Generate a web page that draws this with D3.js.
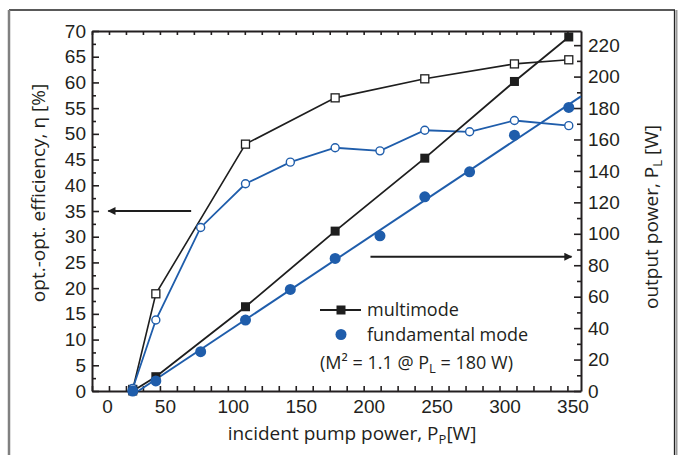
<!DOCTYPE html>
<html>
<head>
<meta charset="utf-8">
<script src="https://cdn.jsdelivr.net/npm/d3@7"></script>
<style>
  body { margin: 0; background: #fff; }
  svg { display: block; font-family: "Open Sans", "Noto Sans", sans-serif; }
  .tick text { font-size: 19px; fill: #231f20; }
  .domain { stroke: #231f20; stroke-width: 2; }
  .tick line { stroke: #231f20; stroke-width: 1.6; }
  .title { font-size: 19px; fill: #231f20; }
  .legend-text { font-size: 18px; fill: #231f20; }
</style>
</head>
<body>
<svg id="chart" width="685" height="455"></svg>
<script>
// data
const pump = [30, 47, 80, 113, 146, 179, 212, 245, 278, 311, 351];          // incident pump power [W]
const pumpMulti = [30, 47, 113, 179, 245, 311, 351];

const effMulti = [0.3, 18.9, 48.0, 57.0, 60.7, 63.6, 64.4];                 // efficiency [%]
const effFund = [0.5, 13.8, 31.8, 40.3, 44.5, 47.3, 46.7, 50.7, 50.4, 52.6, 51.6];

const powMulti = [0, 9.1, 53.6, 101.7, 148.1, 196.9, 225.2];                // output power [W]
const powFund = [0, 6.4, 25, 45.1, 64.6, 84.3, 98.7, 123.5, 139.4, 162.7, 180.4];

const xTicks = d3.range(0, 360, 12.5);
const xLabels = [0, 50, 100, 150, 200, 250, 300, 350];
const effTicks = d3.range(0, 70.1, 2.5);
const powTicks = d3.range(0, 229, 10);

const blue = '#1f5dab';
const black = '#1e1e1e';

const svg = d3.select('#chart');

// scales
const x = d3.scaleLinear().domain([0, 360]).range([92, 581]);
const yL = d3.scaleLinear().domain([0, 70]).range([391, 31]);
const yR = d3.scaleLinear().domain([0, 229]).range([391, 31]);

// outer frame
svg.append('line').attr('x1', 9).attr('x2', 675).attr('y1', 10).attr('y2', 10)
    .attr('stroke', '#222').attr('stroke-width', 1.3);
svg.append('line').attr('x1', 674.5).attr('x2', 674.5).attr('y1', 10).attr('y2', 455)
    .attr('stroke', '#222').attr('stroke-width', 1.3);
svg.append('line').attr('x1', 676.5).attr('x2', 676.5).attr('y1', 10).attr('y2', 455)
    .attr('stroke', '#999').attr('stroke-width', 2);
svg.append('line').attr('x1', 9).attr('x2', 9).attr('y1', 10).attr('y2', 455)
    .attr('stroke', '#808080').attr('stroke-width', 2.5);

// axes (ticks point into the plot)
const bottom = svg.append('g')
    .attr('transform', `translate(0,${yL.range()[0]})`)
    .call(d3.axisBottom(x).tickValues(xTicks).tickSizeInner(-5).tickSizeOuter(0).tickPadding(9)
        .tickFormat(d => xLabels.includes(d) ? d : ''));
bottom.selectAll('.tick text').attr('dx', d => d === 0 ? 15 : 5);

svg.append('g')
    .attr('transform', `translate(0,${yL.range()[1]})`)
    .call(d3.axisTop(x).tickValues(xTicks).tickSizeInner(-4).tickSizeOuter(0).tickFormat(''));

const left = svg.append('g')
    .attr('transform', `translate(${x.range()[0]},0)`)
    .call(d3.axisLeft(yL).tickValues(effTicks).tickSizeInner(-7).tickSizeOuter(0).tickPadding(6)
        .tickFormat(d => d % 5 === 0 ? d : ''));
left.selectAll('.tick line').attr('x2', d => d % 5 === 0 ? 7 : 4);

const right = svg.append('g')
    .attr('transform', `translate(${x.range()[1]},0)`)
    .call(d3.axisRight(yR).tickValues(powTicks).tickSizeInner(-7).tickSizeOuter(0).tickPadding(7)
        .tickFormat(d => d % 20 === 0 ? d : ''));
right.selectAll('.tick line').attr('x2', d => d % 20 === 0 ? -7 : -4);

// axis titles
const xTitle = svg.append('text').attr('class', 'title')
    .attr('x', 352).attr('y', 440).attr('text-anchor', 'middle');
xTitle.append('tspan').text('incident pump power, P');
xTitle.append('tspan').attr('font-size', 13).attr('dy', 4).text('P');
xTitle.append('tspan').attr('dy', -4).text('[W]');

svg.append('text').attr('class', 'title')
    .attr('transform', 'translate(45,193) rotate(-90)')
    .attr('text-anchor', 'middle')
    .text('opt.-opt. efficiency, η [%]');

const rTitle = svg.append('text').attr('class', 'title')
    .attr('transform', 'translate(658,217) rotate(-90)')
    .attr('text-anchor', 'middle');
rTitle.append('tspan').text('output power, P');
rTitle.append('tspan').attr('font-size', 13).attr('dy', 4).text('L');
rTitle.append('tspan').attr('dy', -4).text(' [W]');

// arrows
svg.append('defs').append('marker')
    .attr('id', 'head').attr('viewBox', '0 0 10 10')
    .attr('refX', 9).attr('refY', 5)
    .attr('markerWidth', 10).attr('markerHeight', 8).attr('markerUnits', 'userSpaceOnUse')
    .attr('orient', 'auto')
    .append('path').attr('d', 'M0,0L10,5L0,10Z').attr('fill', black);

const arrowEff = { from: 73, to: 12, level: 35 };       // points to left axis
const arrowPow = { from: 205, to: 353, level: 85.4 };   // points to right axis

svg.append('line')
    .attr('x1', x(arrowEff.from)).attr('x2', x(arrowEff.to))
    .attr('y1', yL(arrowEff.level)).attr('y2', yL(arrowEff.level))
    .attr('stroke', black).attr('stroke-width', 1.8).attr('marker-end', 'url(#head)');
svg.append('line')
    .attr('x1', x(arrowPow.from)).attr('x2', x(arrowPow.to))
    .attr('y1', yR(arrowPow.level)).attr('y2', yR(arrowPow.level))
    .attr('stroke', black).attr('stroke-width', 1.8).attr('marker-end', 'url(#head)');

// lines
const effMultiPts = pumpMulti.map((p, i) => [p, effMulti[i]]);
const effFundPts = pump.map((p, i) => [p, effFund[i]]);
const powMultiPts = pumpMulti.map((p, i) => [p, powMulti[i]]);
const powFundPts = pump.map((p, i) => [p, powFund[i]]);

const lineL = d3.line().x(d => x(d[0])).y(d => yL(d[1]));
const lineR = d3.line().x(d => x(d[0])).y(d => yR(d[1]));

// straight fit through the fundamental mode output power
const mx = d3.mean(pump), my = d3.mean(powFund);
const slope = d3.sum(pump, (p, i) => (p - mx) * (powFund[i] - my)) / d3.sum(pump, p => (p - mx) ** 2);
const icpt = my - slope * mx;
const fitPts = [[-icpt / slope, 0], [x.domain()[1], icpt + slope * x.domain()[1]]];

svg.append('path').datum(effMultiPts).attr('d', lineL)
    .attr('fill', 'none').attr('stroke', black).attr('stroke-width', 1.6);
svg.append('path').datum(effFundPts).attr('d', lineL)
    .attr('fill', 'none').attr('stroke', blue).attr('stroke-width', 1.8);
svg.append('path').datum(powMultiPts).attr('d', lineR)
    .attr('fill', 'none').attr('stroke', black).attr('stroke-width', 1.8);
svg.append('path').datum(fitPts).attr('d', lineR)
    .attr('fill', 'none').attr('stroke', blue).attr('stroke-width', 2);

// markers
svg.append('g').selectAll('rect').data(effMultiPts).enter().append('rect')
    .attr('x', d => x(d[0]) - 4).attr('y', d => yL(d[1]) - 4)
    .attr('width', 8).attr('height', 8)
    .attr('fill', '#fff').attr('stroke', black).attr('stroke-width', 1.3);
svg.append('g').selectAll('circle').data(effFundPts).enter().append('circle')
    .attr('cx', d => x(d[0])).attr('cy', d => yL(d[1])).attr('r', 4)
    .attr('fill', '#fff').attr('stroke', blue).attr('stroke-width', 1.4);
svg.append('g').selectAll('rect').data(powMultiPts).enter().append('rect')
    .attr('x', d => x(d[0]) - 4.5).attr('y', d => yR(d[1]) - 4.5)
    .attr('width', 9).attr('height', 9).attr('fill', black);
svg.append('g').selectAll('circle').data(powFundPts).enter().append('circle')
    .attr('cx', d => x(d[0])).attr('cy', d => yR(d[1])).attr('r', 5.5)
    .attr('fill', blue);

// legend
const legend = svg.append('g').attr('transform', 'translate(320,310)');
legend.append('line').attr('x1', 0).attr('x2', 41).attr('stroke', black).attr('stroke-width', 1.8);
legend.append('rect').attr('x', 16.5).attr('y', -4.5).attr('width', 9).attr('height', 9).attr('fill', black);
legend.append('text').attr('class', 'legend-text').attr('x', 47).attr('y', 6).text('multimode');
legend.append('circle').attr('cx', 21).attr('cy', 24.5).attr('r', 5.5).attr('fill', blue);
legend.append('text').attr('class', 'legend-text').attr('x', 47).attr('y', 31).text('fundamental mode');
const note = legend.append('text').attr('class', 'legend-text').attr('x', 0).attr('y', 59);
note.append('tspan').text('(M² = 1.1 @ P');
note.append('tspan').attr('font-size', 13).attr('dy', 4).text('L');
note.append('tspan').attr('dy', -4).text(' = 180 W)');
</script>
</body>
</html>
